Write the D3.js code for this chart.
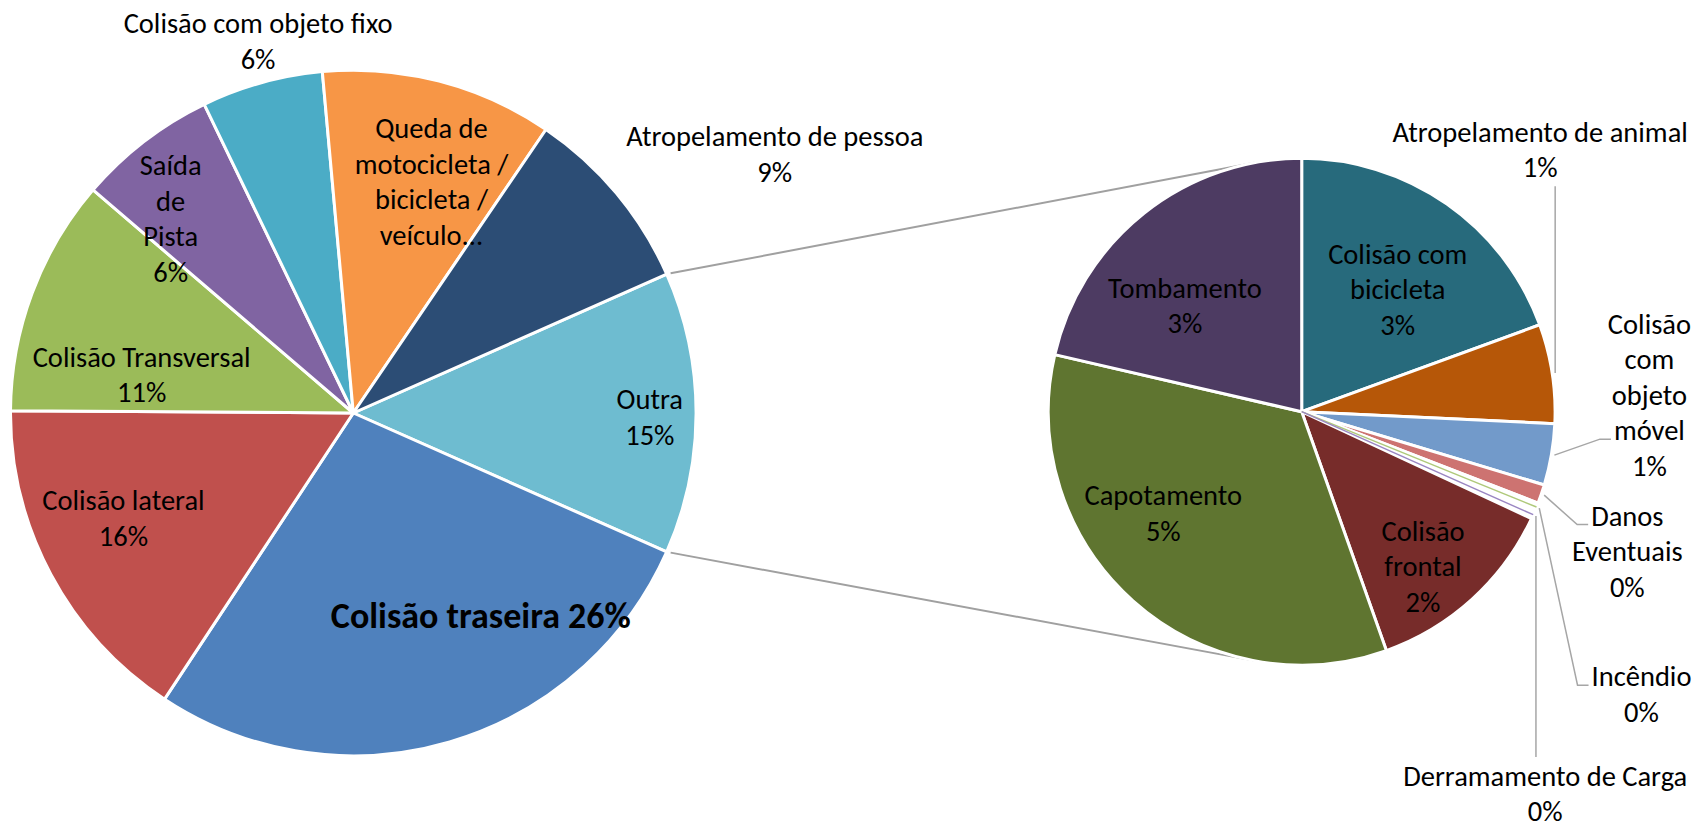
<!DOCTYPE html>
<html>
<head>
<meta charset="utf-8">
<script src="https://cdn.jsdelivr.net/npm/d3@7"></script>
<style>
  html, body { margin: 0; padding: 0; background: #fff; }
  svg { display: block; }
  text { font-family: Carlito, Calibri, Lato, sans-serif; fill: #000; }
</style>
</head>
<body>
<div id="chart"></div>
<script>
const width = 1697;
const height = 829;

// main pie (share of all records, %) - "Outra" is the sum of the second pie
const mainCategories = ["Colisão traseira", "Colisão lateral", "Colisão Transversal", "Saída de Pista",
  "Colisão com objeto fixo", "Queda de motocicleta / bicicleta / veículo...", "Atropelamento de pessoa"];
const mainValues = [27.64, 15.83, 11.17, 6.56, 5.72, 10.94, 8.86];
const mainPctLabels = ["26%", "16%", "11%", "6%", "6%", "", "9%"];
const otherName = "Outra";
const otherPctLabel = "15%";

// second pie (breakdown of "Outra", % of all records)
const subCategories = ["Colisão com bicicleta", "Atropelamento de animal", "Colisão com objeto móvel",
  "Danos Eventuais", "Incêndio", "Derramamento de Carga", "Colisão frontal", "Capotamento", "Tombamento"];
const subValues = [2.58, 0.84, 0.52, 0.16, 0.07, 0.07, 1.68, 4.52, 2.84];
const subPctLabels = ["3%", "1%", "1%", "0%", "0%", "0%", "2%", "5%", "3%"];

const mainColors = ["#6EBCD0", "#4F81BD", "#C0504D", "#9BBB59", "#8064A2", "#4BACC6", "#F79646", "#2C4D75"];
const subColors = ["#276A7C", "#B65708", "#729ACA", "#CD7371", "#AFC97A", "#9A86C2", "#772C2A", "#5F7530", "#4D3B62"];

// layout
const mainCenter = [353.3, 413], mainR = 342.8;
const subCenter = [1301.7, 411.7], subR = 253.4;
const fontSize = 28.5, lineH = 35.5;
const tinyLimit = 0.1;

// label wrapping and placement (radius factor + nudge), same order as the pie data
const mainLabelLayout = [
  { lines: ["Outra"], k: 0.865, dx: 0, dy: 14 },
  { lines: ["Colisão traseira"], inline: true, bold: true, k: 0.70, dx: 60, dy: -15 },
  { lines: ["Colisão lateral"], k: 0.737, dx: -7, dy: -4 },
  { lines: ["Colisão Transversal"], k: 0.628, dx: -10, dy: 47 },
  { lines: ["Saída", "de", "Pista"], k: 0.778, dx: -20, dy: 27 },
  { lines: ["Colisão com objeto fixo"], k: 1.117, dx: 7, dy: 7 },
  { lines: ["Queda de", "motocicleta /", "bicicleta /", "veículo..."], k: 0.712, dx: 17, dy: 15 },
  { lines: ["Atropelamento de pessoa"], k: 1.442, dx: 42, dy: 68 }
];
const subLabelLayout = [
  { lines: ["Colisão com", "bicicleta"], k: 0.613, dx: 7, dy: 15 },
  { lines: ["Atropelamento de animal"], k: 1, dx: -12, dy: -214, leader: { type: "up" } },
  { lines: ["Colisão", "com", "objeto", "móvel"], k: 1, dx: 98, dy: -50, leader: { type: "side", line: 3 } },
  { lines: ["Danos", "Eventuais"], k: 1, dx: 86, dy: 67, leader: { type: "side", line: 0 } },
  { lines: ["Incêndio"], k: 1, dx: 105, dy: 197, leader: { type: "side", line: 0 } },
  { lines: ["Derramamento de Carga"], k: 1, dx: 12, dy: 289, leader: { type: "down" } },
  { lines: ["Colisão", "frontal"], k: 0.776, dx: -11, dy: 19 },
  { lines: ["Capotamento"], k: 0.678, dx: -24, dy: -17 },
  { lines: ["Tombamento"], k: 0.62, dx: -19, dy: 27 }
];

const svg = d3.select("#chart")
  .append("svg")
  .attr("width", width)
  .attr("height", height);

const otherValue = d3.sum(subValues);
const mainData = [{ name: otherName, value: otherValue, pct: otherPctLabel }]
  .concat(mainCategories.map((c, i) => ({ name: c, value: mainValues[i], pct: mainPctLabels[i] })));
const subData = subCategories.map((c, i) => ({ name: c, value: subValues[i], pct: subPctLabels[i] }));

const otherAngle = 2 * Math.PI * otherValue / d3.sum(mainData, d => d.value);
const start = Math.PI / 2 - otherAngle / 2;
const mainArcs = d3.pie().sort(null).value(d => d.value)
  .startAngle(start).endAngle(start + 2 * Math.PI)(mainData);
const subArcs = d3.pie().sort(null).value(d => d.value)(subData);

function polar(c, a, r) {
  return [c[0] + r * Math.sin(a), c[1] - r * Math.cos(a)];
}
const mid = d => (d.startAngle + d.endAngle) / 2;

// connector lines: from the edges of "Outra" to tangents of the second pie
const other = mainArcs[0];
function tangent(p, side) {
  const vx = subCenter[0] - p[0], vy = subCenter[1] - p[1];
  const d = Math.hypot(vx, vy);
  const th = Math.atan2(vy, vx) + side * Math.asin(subR / d);
  const len = Math.sqrt(d * d - subR * subR);
  return [p[0] + len * Math.cos(th), p[1] + len * Math.sin(th), th];
}
[[other.startAngle, -1], [other.endAngle, 1]].forEach(([a, side]) => {
  const p = polar(mainCenter, a, mainR);
  const t = tangent(p, side);
  svg.append("line")
    .attr("x1", p[0] + 4 * Math.cos(t[2]))
    .attr("y1", p[1] + 4 * Math.sin(t[2]))
    .attr("x2", t[0])
    .attr("y2", t[1])
    .attr("stroke", "#A0A0A0")
    .attr("stroke-width", 2);
});

// main pie
const mainArc = d3.arc().innerRadius(0).outerRadius(mainR);
svg.append("g")
  .attr("transform", `translate(${mainCenter[0]}, ${mainCenter[1]})`)
  .selectAll("path")
  .data(mainArcs)
  .join("path")
  .attr("d", mainArc)
  .attr("fill", (d, i) => mainColors[i])
  .attr("stroke", "#fff")
  .attr("stroke-width", 3)
  .attr("stroke-linejoin", "round");

// second pie
const subArc = d3.arc().innerRadius(0).outerRadius(subR);
const subG = svg.append("g")
  .attr("transform", `translate(${subCenter[0]}, ${subCenter[1]})`);
subG.selectAll("path")
  .data(subArcs)
  .join("path")
  .attr("d", subArc)
  .attr("fill", (d, i) => d.value < tinyLimit ? "#fff" : subColors[i])
  .attr("stroke", "#fff")
  .attr("stroke-width", 3)
  .attr("stroke-linejoin", "round");
// very small slices show as a thin coloured line
subG.selectAll("line.tiny")
  .data(subArcs.filter(d => d.value < tinyLimit))
  .join("line")
  .attr("class", "tiny")
  .attr("x1", 0).attr("y1", 0)
  .attr("x2", d => subR * Math.sin(mid(d)))
  .attr("y2", d => -subR * Math.cos(mid(d)))
  .attr("stroke", d => subColors[d.index])
  .attr("stroke-width", 1.4);

// labels
function drawLabels(arcs, layout, center, r) {
  arcs.forEach((d, i) => {
    const lay = layout[i];
    let lines = lay.lines.slice();
    if (d.data.pct) {
      if (lay.inline) lines[lines.length - 1] += " " + d.data.pct;
      else lines.push(d.data.pct);
    }
    const p = polar(center, mid(d), lay.k * r);
    const x = p[0] + lay.dx, y = p[1] + lay.dy;
    const n = lines.length;
    const g = svg.append("g");
    const texts = lines.map((t, j) => g.append("text")
      .attr("x", x)
      .attr("y", y + (j - (n - 1) / 2) * lineH)
      .attr("text-anchor", "middle")
      .style("font-size", (lay.bold ? 36 : fontSize) + "px")
      .style("font-weight", lay.bold ? "bold" : "normal")
      .text(t));

    if (!lay.leader) return;
    const s = polar(center, mid(d), r + 3);
    const bb = g.node().getBBox();
    let pts;
    if (lay.leader.type === "up") {
      pts = [s, [s[0], bb.y + bb.height + 1]];
    } else if (lay.leader.type === "down") {
      pts = [s, [s[0], bb.y - 2]];
    } else {
      const lb = texts[lay.leader.line].node().getBBox();
      const ey = y + (lay.leader.line - (n - 1) / 2) * lineH - 1;
      const ex = lb.x - 3;
      pts = [s, [ex - 11, ey], [ex, ey]];
    }
    svg.insert("path", "g")
      .attr("d", d3.line()(pts))
      .attr("fill", "none")
      .attr("stroke", "#A6A6A6")
      .attr("stroke-width", 1.5);
  });
}
drawLabels(mainArcs, mainLabelLayout, mainCenter, mainR);
drawLabels(subArcs, subLabelLayout, subCenter, subR);
</script>
</body>
</html>
